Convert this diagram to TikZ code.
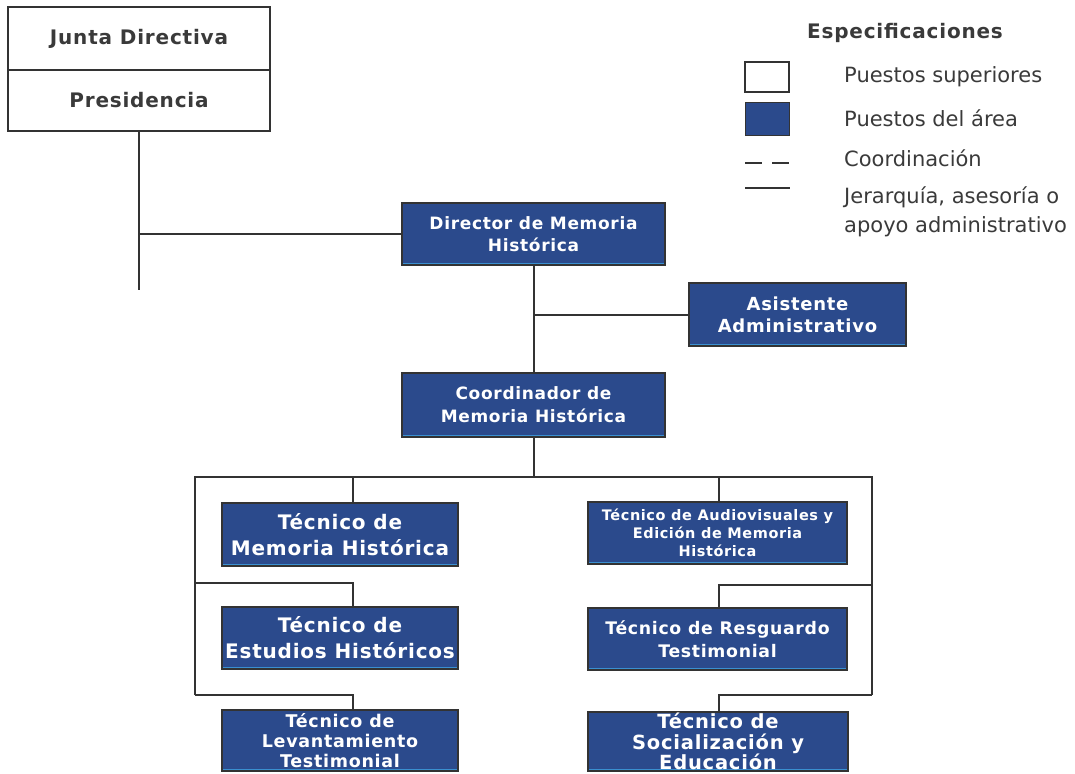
\documentclass[tikz,border=0pt]{standalone}
\usepackage{fontspec}
\setmainfont{DejaVu Sans}
\newfontfamily\boxfont{DejaVu Sans}[LetterSpace=4]
\usetikzlibrary{calc}
\definecolor{boxblue}{HTML}{2B4A8C}
\definecolor{boxline}{HTML}{3A8FD0}
\definecolor{edge}{HTML}{333333}
\definecolor{txtgray}{HTML}{3A3A3A}
\tikzset{
  bluebox/.style={draw=edge, line width=1.2pt, fill=boxblue, text=white, align=center,
    inner sep=0pt, font=\boxfont\bfseries,
    path picture={\draw[boxline, line width=2pt]
      ([yshift=1.5pt]path picture bounding box.south west) -- ([yshift=1.5pt]path picture bounding box.south east);}},
  whitebox/.style={draw=edge, line width=1.5pt, fill=white, text=txtgray, align=center,
    inner sep=0pt, font=\boxfont\bfseries\fontsize{20}{22}\selectfont},
  conn/.style={draw=edge, line width=2pt},
  legtext/.style={anchor=west, text=txtgray, inner sep=0pt, font=\fontsize{21}{29}\selectfont, align=left}
}
\begin{document}
\begin{tikzpicture}[x=1pt,y=-1pt]
\useasboundingbox (0,0) rectangle (1075,773);
% upper boxes
\node[whitebox, minimum width=262pt, minimum height=63pt] (junta) at (139,38.5) {Junta Directiva};
\node[whitebox, minimum width=262pt, minimum height=61pt] (pres) at (139,100.5) {Presidencia};
% blue boxes
\node[bluebox, minimum width=263pt, minimum height=62pt, font=\boxfont\bfseries\fontsize{17}{22}\selectfont] (dir) at (533.5,234) {Director de Memoria\\Histórica};
\node[bluebox, minimum width=217pt, minimum height=63pt, font=\boxfont\bfseries\fontsize{18}{22}\selectfont] (asis) at (797.5,314.5) {Asistente\\Administrativo};
\node[bluebox, minimum width=263pt, minimum height=64pt, font=\boxfont\bfseries\fontsize{17}{23}\selectfont] (coord) at (533.5,405) {Coordinador de\\Memoria Histórica};
\node[bluebox, minimum width=236pt, minimum height=63pt, font=\boxfont\bfseries\fontsize{20}{26}\selectfont] (tmh) at (340,534.5) {Técnico de\\Memoria Histórica};
\node[bluebox, minimum width=236pt, minimum height=62pt, font=\boxfont\bfseries\fontsize{20}{26}\selectfont] (teh) at (340,638) {Técnico de\\Estudios Históricos};
\node[bluebox, minimum width=236pt, minimum height=61pt, font=\boxfont\bfseries\fontsize{17.5}{20}\selectfont] (tlt) at (340,740.5) {Técnico de\\Levantamiento\\Testimonial};
\node[bluebox, minimum width=259pt, minimum height=62pt, font=\boxfont\bfseries\fontsize{14.5}{18}\selectfont] (tae) at (717.5,533) {Técnico de Audiovisuales y\\Edición de Memoria\\Histórica};
\node[bluebox, minimum width=259pt, minimum height=62pt, font=\boxfont\bfseries\fontsize{17.3}{23}\selectfont] (trt) at (717.5,639) {Técnico de Resguardo\\Testimonial};
\node[bluebox, minimum width=260pt, minimum height=59pt, font=\boxfont\bfseries\fontsize{19.5}{20.5}\selectfont] (tse) at (718,741.5) {Técnico de\\Socialización y\\Educación};
% junction coordinates
\coordinate (presend) at (139,290);
\coordinate (presj) at (139,234);
\coordinate (asisj) at (533.5,314.5);
\coordinate (busc) at (533.5,477);
\coordinate (busl) at (195,477);
\coordinate (busr) at (872,477);
\coordinate (lbot) at (195,695);
\coordinate (rbot) at (872,695);
\coordinate (l2) at (195,583);
\coordinate (r2) at (872,585);
\coordinate (lx) at (353,477);
\coordinate (rx) at (719,477);
% connectors
\draw[conn] (pres.south) -- (presend);
\draw[conn] (presj) -- (dir.west);
\draw[conn] (dir.south) -- (coord.north);
\draw[conn] (asisj) -- (asis.west);
\draw[conn] (coord.south) -- (busc);
\draw[conn] (lbot) -- (busl) -- (busr) -- (rbot);
\draw[conn] (lx) -- (lx |- tmh.north);
\draw[conn] (rx) -- (rx |- tae.north);
\draw[conn] (l2) -| (lx |- teh.north);
\draw[conn] (lbot) -| (lx |- tlt.north);
\draw[conn] (r2) -| (rx |- trt.north);
\draw[conn] (rbot) -| (rx |- tse.north);
% legend
\node[text=txtgray, inner sep=0pt, font=\boxfont\bfseries\fontsize{20}{22}\selectfont] (legtitle) at (905,33) {Especificaciones};
\node[draw=edge, line width=1.2pt, fill=white, minimum width=44pt, minimum height=30pt, inner sep=0pt] (legw) at (767,77) {};
\node[draw=edge, line width=1pt, fill=boxblue, minimum width=44pt, minimum height=32pt, inner sep=0pt] (legb) at (767,119) {};
\coordinate (dashl) at (745,163);
\coordinate (dashr) at (790,163);
\coordinate (soll) at (745,188);
\coordinate (solr) at (790,188);
\draw[conn, dash pattern=on 17pt off 10pt] (dashl) -- (dashr);
\draw[conn] (soll) -- (solr);
\node[legtext] (lt1) at (844,77) {Puestos superiores};
\node[legtext] (lt2) at (844,118) {Puestos del área};
\node[legtext] (lt3) at (844,158) {Coordinación};
\node[legtext] (lt4) at (844,212) {Jerarquía, asesoría o\\apoyo administrativo};
\end{tikzpicture}
\end{document}
